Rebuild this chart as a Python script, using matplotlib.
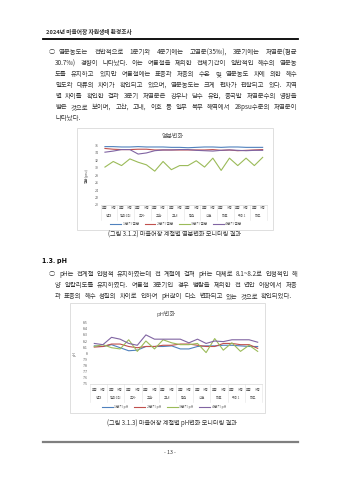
import matplotlib
matplotlib.use('Agg')
import matplotlib.pyplot as plt
from matplotlib.patches import Rectangle

plt.rcParams['font.family'] = ['Noto Sans CJK KR', 'DejaVu Sans']

# ---- data ----
stations = ['평대', '일과1리', '추자', '고산', '고내', '함덕', '신천', '하효', '위미1', '하도']
layers = ['표층', '저층']

sal_q1 = [35.7, 35.7, 35.6, 35.6, 35.7, 35.6, 35.6, 35.6, 35.5, 35.5,
          35.4, 35.5, 35.6, 35.6, 35.5, 35.6, 35.6, 35.5, 35.5, 35.5]
sal_q2 = [35.2, 35.0, 34.9, 34.9, 35.0, 35.0, 34.8, 34.8, 34.8, 34.8,
          34.8, 34.8, 34.8, 34.9, 34.7, 34.8, 34.6, 34.7, 34.8, 34.9]
sal_q3 = [30.2, 31.7, 30.6, 32.4, 31.5, 30.8, 29.1, 31.7, 29.5, 30.6,
          30.6, 31.9, 30.2, 32.6, 29.3, 32.6, 30.6, 32.6, 30.6, 32.8]
sal_q4 = [34.2, 34.5, 34.9, 34.9, 33.7, 34.0, 34.6, 34.8, 34.8, 34.9,
          34.9, 34.7, 34.6, 34.5, 34.7, 34.8, 34.7, 34.6, 34.7, 34.7]

ph_q1 = [8.12, 8.11, 8.14, 8.09, 8.04, 8.05, 8.11, 8.11, 8.11, 8.12,
         8.07, 8.07, 8.11, 8.12, 8.12, 8.13, 8.13, 8.12, 8.11, 8.11]
ph_q2 = [8.10, 8.11, 8.15, 8.15, 8.11, 8.09, 8.11, 8.11, 8.13, 8.13,
         8.15, 8.15, 8.13, 8.11, 8.11, 8.16, 8.16, 8.14, 8.14, 8.08]
ph_q3 = [8.11, 8.14, 8.09, 8.07, 8.22, 8.03, 8.20, 8.07, 8.22, 8.17,
         8.14, 8.14, 8.16, 8.01, 8.24, 8.05, 8.17, 8.03, 8.13, 8.03]
ph_q4 = [8.16, 8.14, 8.26, 8.23, 8.16, 8.13, 8.30, 8.23, 8.23, 8.23,
         8.23, 8.17, 8.23, 8.16, 8.20, 8.19, 8.22, 8.22, 8.22, 8.18]

sal_yticks = [20, 22, 24, 26, 28, 30, 32, 34, 36]
ph_yticks = [7.5, 7.6, 7.7, 7.8, 7.9, 8.0, 8.1, 8.2, 8.3, 8.4, 8.5]

colors = ['#4F81BD', '#C0504D', '#9BBB59', '#8064A2']

para1 = [
    '염분농도는 전반적으로 1분기와 4분기에는 고염분(35‰), 3분기에는 저염분(평균',
    '30.7‰) 경향이 나타났다. 이는 여름철을 제외한 전체기간이 일반적인 해수의 염분농',
    '도를 유지하고 있지만 여름철에는 표층과 저층의 수온 및 염분농도 차에 의한 해수',
    '밀도와 대류의 차이가 확인되고 있으며, 염분농도는 크게 편차가 관찰되고 있다. 지역',
    '별 차이를 확인한 결과 3분기 저염분은 강우나 담수 유입, 중국발 저염분수의 영향을',
    '받은 것으로 보이며, 고산, 고내, 이호 등 일부 북부 해역에서 28psu수준의 저염분이',
    '나타났다.',
]
para2 = [
    'pH는 전계절 안정적 유지하였는데 전 계절에 걸쳐 pH는 대체로 8.1~8.2로 안정적인 해',
    '양 알칼리도를 유지하였다. 여름철 3분기인 경우 범람을 제외한 전 연안 어장에서 저층',
    '과 표층의 해수 성질의 차이로 인하여 pH값이 다소 변화되고 있는 것으로 확인되었다.',
]

W, H = 339, 480
fig = plt.figure(figsize=(W / 100, H / 100), dpi=100)
fig.patch.set_facecolor('white')

# overlay in pixel coordinates for page text
ov = fig.add_axes([0, 0, 1, 1])
ov.set_xlim(0, W)
ov.set_ylim(H, 0)
ov.axis('off')
renderer = fig.canvas.get_renderer()

TXT = '#333333'
GRAY = '#595959'
BODY_FS = 4.6


def put_line(text, x0, x1, y, fs, justify=True):
    words = text.split(' ')
    objs = [ov.text(0, y, w, fontsize=fs, va='center', ha='left', color=TXT,
                    fontweight='light') for w in words]
    widths = [t.get_window_extent(renderer).width for t in objs]
    if justify and len(words) > 1:
        gap = (x1 - x0 - sum(widths)) / (len(words) - 1)
    else:
        gap = fs * 100 / 72 * 0.3
    x = x0
    for t, w in zip(objs, widths):
        t.set_x(x)
        x += w + gap


def paragraph(lines, y0, dy, last_right=None):
    ov.text(51.5, y0, '○', fontsize=BODY_FS, va='center', ha='center', color=TXT)
    for i, line in enumerate(lines):
        x0 = 59 if i == 0 else 55
        last = i == len(lines) - 1
        if last and last_right is None:
            put_line(line, x0, 297.5, y0 + i * dy, BODY_FS, justify=False)
        else:
            put_line(line, x0, last_right if last else 297.5, y0 + i * dy, BODY_FS)


def rect(x0, y0, x1, y1):
    return [x0 / W, 1 - y1 / H, (x1 - x0) / W, (y1 - y0) / H]


def chart(box, area, series, names, yticks, ylim, title, ylabel, ylab_x,
          title_pos, rows_y, legend_pos):
    bx0, by0, bx1, by1 = box
    ov.add_patch(Rectangle((bx0, by0), bx1 - bx0, by1 - by0, fill=False,
                           edgecolor='#D9D9D9', lw=0.6))
    ov.text(title_pos[0], title_pos[1], title, fontsize=4.3, color=GRAY,
            ha='center', va='center')
    ax = fig.add_axes(rect(*area))
    ax.set_facecolor('none')
    n = len(series[0])
    xs = list(range(n))
    for vals, c, lab in zip(series, colors, names):
        ax.plot(xs, vals, color=c, lw=0.8, label=lab)
    ax.set_xlim(-0.5, n - 0.5)
    ax.set_ylim(*ylim)
    ax.set_yticks(yticks)
    ax.set_yticklabels([f'{v:g}' for v in yticks])
    ax.tick_params(axis='y', length=0, labelsize=2.5, colors=GRAY, pad=1.5)
    ax.set_xticks([])
    for s in ['top', 'right', 'left']:
        ax.spines[s].set_visible(False)
    ax.spines['bottom'].set_color('#D9D9D9')
    ax.spines['bottom'].set_linewidth(0.5)
    ax.set_ylabel(ylabel, fontsize=2.5, color=GRAY)
    ax.yaxis.set_label_coords((ylab_x - area[0]) / (area[2] - area[0]), 0.5)

    hgt = area[3] - area[1]
    fy = lambda y: (area[3] - y) / hgt
    tr = ax.get_xaxis_transform()
    for i in xs:
        ax.text(i, fy(rows_y[0]), layers[i % 2], transform=tr, fontsize=2.3,
                color=GRAY, ha='center', va='center', clip_on=False)
    for k, st in enumerate(stations):
        ax.text(2 * k + 0.5, fy(rows_y[1]), st, transform=tr, fontsize=2.5,
                color=GRAY, ha='center', va='center', clip_on=False)
    for k in range(len(stations) + 1):
        ax.plot([2 * k - 0.5, 2 * k - 0.5], [0, fy(rows_y[1] + 4)], transform=tr,
                color='#E3E3E3', lw=0.4, clip_on=False)
    ax.legend(loc='center', bbox_to_anchor=(legend_pos[0] / W, 1 - legend_pos[1] / H),
              bbox_transform=fig.transFigure, ncol=4, frameon=False, fontsize=2.6,
              handlelength=3.0, columnspacing=1.6, handletextpad=0.4,
              labelcolor=GRAY)
    return ax


# ---- header ----
ov.text(46.5, 32.3, '2024년 마을어장 자원생태 환경조사', fontsize=4.1,
        fontweight='bold', va='center', ha='left', color=TXT)
ov.plot([42.5, 297.8], [38.5, 38.5], color='black', lw=1.3)

paragraph(para1, 52.3, 10.95)

chart((77, 128, 273, 230), (100.8, 145.5, 266.8, 205), [sal_q1, sal_q2, sal_q3, sal_q4],
      ['1분기 염분', '2분기 염분', '3분기 염분', '4분기 염분'], sal_yticks, (20, 36),
      '염분변화', '염분(psu)', 89, (173, 136), (208.5, 216), (176, 224))
ov.text(175, 234.3, '(그림 3.1.2) 마을어장 계절별 염분변화 모니터링 결과',
        fontsize=4.4, ha='center', va='center', color=TXT, fontweight='light')

ov.text(42, 261, '1.3. pH', fontsize=5.2, fontweight='bold', ha='left', va='center',
        color='black')

paragraph(para2, 274.3, 10.9, last_right=292)

chart((70, 303, 265, 413), (90, 322.7, 262, 383.7), [ph_q1, ph_q2, ph_q3, ph_q4],
      ['1분기 pH', '2분기 pH', '3분기 pH', '4분기 pH'], ph_yticks, (7.5, 8.5),
      'pH변화', 'pH', 77, (166, 313.5), (390, 398), (164, 407))
ov.text(172, 423, '(그림 3.1.3) 마을어장 계절별 pH변화 모니터링 결과',
        fontsize=4.4, ha='center', va='center', color=TXT, fontweight='light')

# ---- footer ----
ov.plot([42.5, 297.8], [442, 442], color='#7F7F7F', lw=1.6)
ov.text(170, 452, '- 13 -', fontsize=3.8, ha='center', va='center', color=TXT)

fig.savefig('out.png', dpi=100, facecolor='white')
